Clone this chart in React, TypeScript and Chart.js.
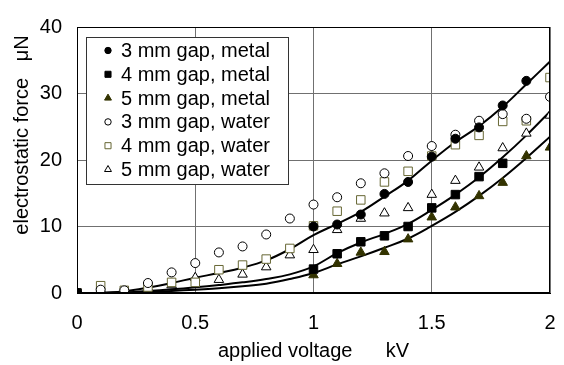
import React, { useEffect, useRef } from 'react';
import { Chart, registerables } from 'chart.js';
import { drawPoint } from 'chart.js/helpers';

Chart.register(...registerables);

// ---- data (applied voltage kV, electrostatic force µN) ----
const voltage = [0, 0.1, 0.2, 0.3, 0.4, 0.5, 0.6, 0.7, 0.8, 0.9, 1.0, 1.1, 1.2, 1.3, 1.4, 1.5, 1.6, 1.7, 1.8, 1.9, 2.0];

const metal3mm = [0, null, null, null, null, null, null, null, null, null, 10.0, 10.3, 11.8, 14.9, 16.7, 20.5, 23.2, 24.9, 28.2, 31.9, null];
const metal4mm = [0, null, null, null, null, null, null, null, null, null, 3.6, 5.9, 7.7, 8.6, 10.0, 12.8, 14.8, 17.5, 19.5, null, null];
const metal5mm = [0, null, null, null, null, null, null, null, null, null, 2.7, 4.4, 6.1, 6.2, 8.1, 11.4, 12.9, 14.6, 16.6, 20.6, 21.9];
const water3mm = [0, 0.5, 0.4, 1.5, 3.1, 4.5, 6.1, 7.0, 8.8, 11.2, 13.3, 14.4, 16.5, 18.0, 20.6, 22.1, 23.8, 25.9, 26.9, 26.2, 29.5];
const water4mm = [0, 1.1, 0.4, 0.9, 1.6, 1.6, 3.5, 4.2, 5.1, 6.7, 10.1, 12.3, 14.0, 16.7, 18.3, 20.6, 22.3, 23.7, 25.8, 25.9, 32.4];
const water5mm = [0, 0.5, 0.05, 0.8, 1.2, 2.3, 2.0, 2.8, 3.9, 5.7, 6.5, 9.5, 11.2, 12.0, 12.8, 14.8, 16.9, 18.9, 21.8, 24.0, 26.7];

// fitted curves
const curveVoltage = [0.1, 0.2, 0.3, 0.4, 0.5, 0.6, 0.7, 0.8, 0.9, 1.0, 1.1, 1.2, 1.3, 1.4, 1.5, 1.6, 1.7, 1.8, 1.9, 2.0];
const fit3mm = [0, 0.25, 0.8, 1.5, 2.3, 3.0, 3.8, 4.9, 6.6, 8.7, 10.4, 12.2, 14.5, 16.9, 19.9, 22.7, 25.1, 28.0, 31.4, 34.8];
const fit4mm = [0, 0.1, 0.3, 0.55, 0.85, 1.2, 1.6, 2.1, 2.8, 4.0, 6.0, 7.6, 8.9, 10.4, 12.5, 14.8, 17.4, 20.4, 23.7, 27.3];
const fit5mm = [0, 0.05, 0.15, 0.3, 0.5, 0.7, 1.0, 1.4, 2.1, 3.0, 4.3, 5.5, 6.8, 8.2, 10.1, 12.2, 14.6, 17.3, 20.3, 23.5];

const seriesLabels = ['3 mm gap, metal', '4 mm gap, metal', '5 mm gap, metal', '3 mm gap, water', '4 mm gap, water', '5 mm gap, water'];
const xTicks = [0, 0.5, 1, 1.5, 2];
const yTicks = [0, 10, 20, 30, 40];

const FONT = "'Liberation Sans', Arial, sans-serif";

const pts = (xs: number[], ys: (number | null)[]) =>
  xs.map((x, i) => ({ x, y: ys[i] })).filter((p) => p.y !== null) as { x: number; y: number }[];

const markerStyles = [
  { pointStyle: 'circle', radius: 4.5, bg: '#000000', border: '#000000', lr: 3.2 },
  { pointStyle: 'rect', radius: 6, bg: '#000000', border: '#000000', lr: 4.3 },
  { pointStyle: 'triangle', radius: 5.5, bg: '#333300', border: '#333300', lr: 4 },
  { pointStyle: 'circle', radius: 4.5, bg: '#ffffff', border: '#000000', lr: 3.2 },
  { pointStyle: 'rect', radius: 6, bg: '#ffffff', border: '#666633', lr: 4.3 },
  { pointStyle: 'triangle', radius: 5.5, bg: '#ffffff', border: '#000000', lr: 4 },
];

const boxLegend = {
  id: 'boxLegend',
  afterDraw(chart: any) {
    const { ctx, chartArea } = chart;
    const left = chartArea.left + 9;
    const top = chartArea.top + 10;
    const w = 202;
    const h = 147;
    ctx.save();
    ctx.fillStyle = '#ffffff';
    ctx.fillRect(left, top, w, h);
    ctx.strokeStyle = '#333333';
    ctx.lineWidth = 1;
    ctx.strokeRect(left + 0.5, top + 0.5, w, h);
    ctx.font = `20px ${FONT}`;
    ctx.textBaseline = 'middle';
    seriesLabels.forEach((label, i) => {
      const y = top + 13.5 + i * 23.8;
      const m = markerStyles[i];
      ctx.fillStyle = m.bg;
      ctx.strokeStyle = m.border;
      ctx.lineWidth = 1;
      drawPoint(ctx, { pointStyle: m.pointStyle as any, radius: m.lr, borderWidth: 1, rotation: 0 }, left + 22, y);
      ctx.fillStyle = '#000000';
      ctx.fillText(label, left + 35, y + 1);
    });
    ctx.restore();
  },
};

export default function App() {
  const ref = useRef<HTMLCanvasElement>(null);
  useEffect(() => {
    document.body.style.margin = '0';
    const scatterSets = [metal3mm, metal4mm, metal5mm, water3mm, water4mm, water5mm].map((ys, i) => ({
      type: 'scatter' as const,
      label: seriesLabels[i],
      data: pts(voltage, ys),
      showLine: false,
      pointStyle: markerStyles[i].pointStyle,
      pointRadius: markerStyles[i].radius,
      pointBackgroundColor: markerStyles[i].bg,
      pointBorderColor: markerStyles[i].border,
      pointBorderWidth: 1,
      order: 1,
    }));
    const curveSets = [fit3mm, fit4mm, fit5mm].map((ys, i) => ({
      type: 'line' as const,
      label: 'fit ' + (i + 3),
      data: pts(curveVoltage, ys),
      borderColor: '#000000',
      borderWidth: 2,
      pointRadius: 0,
      fill: false,
      tension: 0.4,
      order: 2,
    }));
    const chart = new Chart(ref.current!, {
      type: 'scatter',
      data: { datasets: [...scatterSets, ...curveSets] as any },
      options: {
        animation: false,
        responsive: false,
        devicePixelRatio: 1,
        layout: { padding: { top: 15, right: 14, left: 0, bottom: 0 } },
        plugins: { legend: { display: false }, tooltip: { enabled: false } },
        scales: {
          x: {
            type: 'linear',
            min: 0,
            max: 2,
            afterFit: (s: any) => { s.height = 72; s.paddingLeft = 0; s.paddingRight = 0; },
            afterBuildTicks: (s: any) => { s.ticks = xTicks.map((v) => ({ value: v })); },
            ticks: { font: { family: FONT, size: 20 }, color: '#000', padding: 18, maxRotation: 0, autoSkip: false, callback: (v: any) => String(v) },
            grid: { color: '#707070', lineWidth: 1, drawTicks: false },
            border: { color: '#000', width: 1 },
            title: { display: true, text: 'applied voltage      kV', font: { family: FONT, size: 20 }, color: '#000', padding: { top: 0, bottom: 2 } },
          },
          y: {
            type: 'linear',
            min: 0,
            max: 40,
            afterFit: (s: any) => { s.width = 77; },
            afterBuildTicks: (s: any) => { s.ticks = yTicks.map((v) => ({ value: v })); },
            ticks: { font: { family: FONT, size: 20 }, color: '#000', padding: 15, callback: (v: any) => String(v) },
            grid: { color: '#707070', lineWidth: 1, drawTicks: false },
            border: { color: '#000', width: 1 },
            title: { display: true, text: '         electrostatic force   μN', font: { family: FONT, size: 20 }, color: '#000', padding: { top: 10, bottom: 0 } },
          },
        },
      },
      plugins: [
        {
          id: 'frame',
          afterDatasetsDraw(chart: any) {
            const { ctx, chartArea } = chart;
            ctx.save();
            ctx.strokeStyle = '#000';
            ctx.lineWidth = 1;
            ctx.strokeRect(Math.round(chartArea.left) + 0.5, Math.round(chartArea.top) + 0.5, Math.round(chartArea.width) - 1, Math.round(chartArea.height) - 1);
            ctx.restore();
          },
        },
        boxLegend,
      ],
    });
    return () => chart.destroy();
  }, []);
  return (
    <div style={{ width: 564, height: 365 }}>
      <canvas ref={ref} width={564} height={365} style={{ display: 'block' }} />
    </div>
  );
}
